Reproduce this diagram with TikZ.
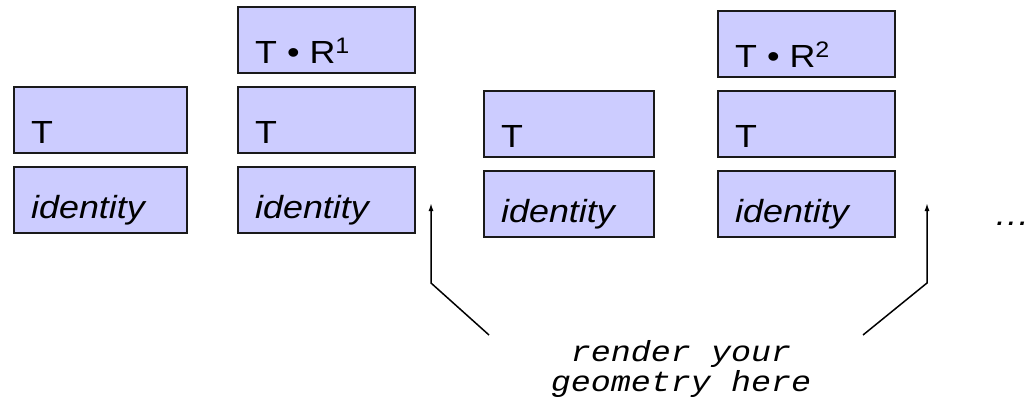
\documentclass[tikz,border=0pt]{standalone}
\usepackage{fontspec}
\setmainfont{Liberation Sans}
\newfontfamily\monofam{Liberation Mono}
\usetikzlibrary{arrows.meta}
\definecolor{boxfill}{HTML}{CCCCFF}
\definecolor{boxline}{HTML}{1A1A1A}
\newcommand{\hstretch}[1]{\scalebox{1.12}[1]{#1}}
\newcommand{\mstretch}[1]{\scalebox{1.15}[1]{#1}}
\begin{document}
\begin{tikzpicture}[x=1pt,y=-1pt,
  mbox/.style={draw=boxline, fill=boxfill, line width=2.2pt, minimum height=66pt, anchor=north west, inner sep=0pt, outer sep=0pt},
  btext/.style={anchor=base west, inner sep=0pt, font=\fontsize{32}{36}\selectfont},
  itext/.style={btext, font=\fontsize{32}{36}\selectfont\itshape},
  conn/.style={draw=black, line width=1.5pt},
  tip/.style={-{Latex[length=8pt,width=5pt]}}
]
\useasboundingbox (0,0) rectangle (1036,402);
% column 1
\node[mbox, minimum width=173pt] (T1) at (14,87) {};
\node[mbox, minimum width=173pt] (I1) at (14,167) {};
% column 2
\node[mbox, minimum width=177pt] (R1) at (238,7) {};
\node[mbox, minimum width=177pt] (T2) at (238,87) {};
\node[mbox, minimum width=177pt] (I2) at (238,167) {};
% column 3
\node[mbox, minimum width=170pt] (T3) at (484,91) {};
\node[mbox, minimum width=170pt] (I3) at (484,171) {};
% column 4
\node[mbox, minimum width=177pt] (R2) at (718,11) {};
\node[mbox, minimum width=177pt] (T4) at (718,91) {};
\node[mbox, minimum width=177pt] (I4) at (718,171) {};
% texts
\node[btext] (tT1) at ([shift={(17,-10)}]T1.south west) {\hstretch{T}};
\node[itext] (tI1) at ([shift={(17,-15)}]I1.south west) {\hstretch{identity}};
\node[btext] (tR1) at ([shift={(17,-10)}]R1.south west) {\hstretch{T • R\textsuperscript{1}}};
\node[btext] (tT2) at ([shift={(17,-10)}]T2.south west) {\hstretch{T}};
\node[itext] (tI2) at ([shift={(17,-15)}]I2.south west) {\hstretch{identity}};
\node[btext] (tT3) at ([shift={(17,-10)}]T3.south west) {\hstretch{T}};
\node[itext] (tI3) at ([shift={(17,-15)}]I3.south west) {\hstretch{identity}};
\node[btext] (tR2) at ([shift={(17,-10)}]R2.south west) {\hstretch{T • R\textsuperscript{2}}};
\node[btext] (tT4) at ([shift={(17,-10)}]T4.south west) {\hstretch{T}};
\node[itext] (tI4) at ([shift={(17,-15)}]I4.south west) {\hstretch{identity}};
\node[itext] (dots) at (994,225) {\hstretch{…}};
% label
\node[font=\monofam\itshape\fontsize{29}{30}\selectfont, align=center, anchor=north, inner sep=0pt] (lbl) at (681,340) {\mstretch{render your}\\\mstretch{geometry here}};
% arrows
\coordinate (a1tip) at (431,203);
\coordinate (a1knee) at (431,283);
\coordinate (a1end) at (489,335);
\coordinate (a2tip) at (927,203);
\coordinate (a2knee) at (927,283);
\coordinate (a2end) at (863,335);
\draw[conn, tip] (a1end) -- (a1knee) -- (a1tip);
\draw[conn, tip] (a2end) -- (a2knee) -- (a2tip);
\end{tikzpicture}
\end{document}
